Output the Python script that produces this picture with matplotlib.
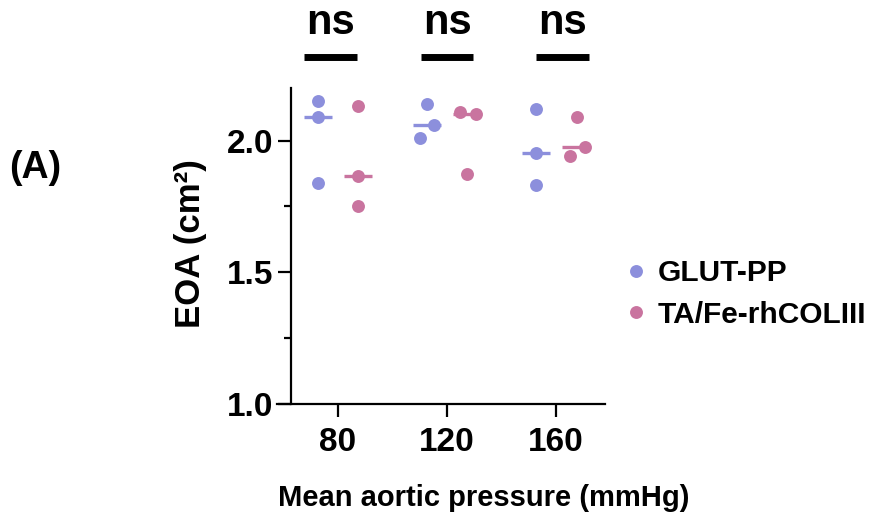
import numpy as np
import matplotlib
matplotlib.use("Agg")
import matplotlib.pyplot as plt

# data
pressures = ["80", "120", "160"]
glut_pp = [[2.15, 2.09, 1.84], [2.14, 2.06, 2.01], [2.12, 1.955, 1.83]]
ta_fe = [[2.13, 1.865, 1.75], [2.11, 2.10, 1.875], [2.09, 1.975, 1.94]]
sig_labels = ["ns", "ns", "ns"]
series_names = ["GLUT-PP", "TA/Fe-rhCOLIII"]

# layout bits
colors = ["#8C8FDC", "#C9749F"]
group_off = [-0.183, 0.183]
glut_jit = [[0, 0, 0], [0, 0.065, -0.065], [0, 0, 0]]
ta_jit = [[0, 0, 0], [-0.065, 0.08, 0], [0.01, 0.08, -0.055]]
ns_x = [-0.07, 1.0, 2.06]

plt.rcParams["font.family"] = ["Liberation Sans", "DejaVu Sans"]
plt.rcParams["font.weight"] = "bold"

W, H = 877, 517
fig = plt.figure(figsize=(W / 100, H / 100), dpi=100)
ax = fig.add_axes([277 / W, 1 - 404 / H, (605 - 277) / W, (404 - 88) / H])

x = np.arange(len(pressures))
for s, (vals, jit) in enumerate([(glut_pp, glut_jit), (ta_fe, ta_jit)]):
    for i, grp in enumerate(vals):
        xc = x[i] + group_off[s]
        xs = [xc + j for j in jit[i]]
        ax.plot(xs, grp, "o", ms=9.3, color=colors[s], mec="none",
                label=series_names[s] if i == 0 else None, zorder=3)
        med = np.median(grp)
        ax.plot([xc - 0.125, xc + 0.125], [med, med], color=colors[s],
                lw=2.4, solid_capstyle="butt", zorder=2)

ax.set_xlim(-0.5596, 2.4495)
ax.set_ylim(1.0, 2.2)
ax.spines["left"].set_position(("data", -0.431))
ax.spines["top"].set_visible(False)
ax.spines["right"].set_visible(False)
for sp in ["left", "bottom"]:
    ax.spines[sp].set_linewidth(1.6)

ax.set_xticks(x)
ax.set_xticklabels(pressures)
ax.set_yticks([1.0, 1.5, 2.0])
ax.set_yticks([1.25, 1.75], minor=True)
ax.yaxis.set_major_formatter(matplotlib.ticker.FormatStrFormatter("%.1f"))
ax.tick_params(axis="both", which="major", length=9.5, width=1.6,
               labelsize=24)
ax.tick_params(axis="x", which="major", pad=7)
ax.tick_params(axis="y", which="major", pad=3.5)
ax.tick_params(axis="y", which="minor", length=5, width=1.6)

ax.set_xlabel("Mean aortic pressure (mmHg)", fontsize=21, fontweight="bold")
ax.xaxis.set_label_coords(0.631, -0.253)
ax.set_ylabel("EOA (cm²)", fontsize=25, fontweight="bold")
ax.yaxis.set_label_coords(-0.213, 0.509)

# significance bars
for xi, lab in zip(ns_x, sig_labels):
    ax.plot([xi - 0.243, xi + 0.243], [2.318, 2.318], color="black", lw=5,
            solid_capstyle="butt", clip_on=False)
    ax.text(xi, 2.405, lab, ha="center", va="baseline", fontsize=30,
            fontweight="bold", clip_on=False)

ax.legend(loc="center left", bbox_to_anchor=(609 / W, 1 - 294 / H),
          bbox_transform=fig.transFigure, frameon=False, borderpad=0,
          handlelength=0.8, handletextpad=0.33, labelspacing=0.45,
          prop={"size": 21.5, "weight": "bold"})

fig.text(9 / W, 1 - 168 / H, "(A)", fontsize=27, fontweight="bold",
         va="center", ha="left")

fig.savefig("out.png", dpi=100)
